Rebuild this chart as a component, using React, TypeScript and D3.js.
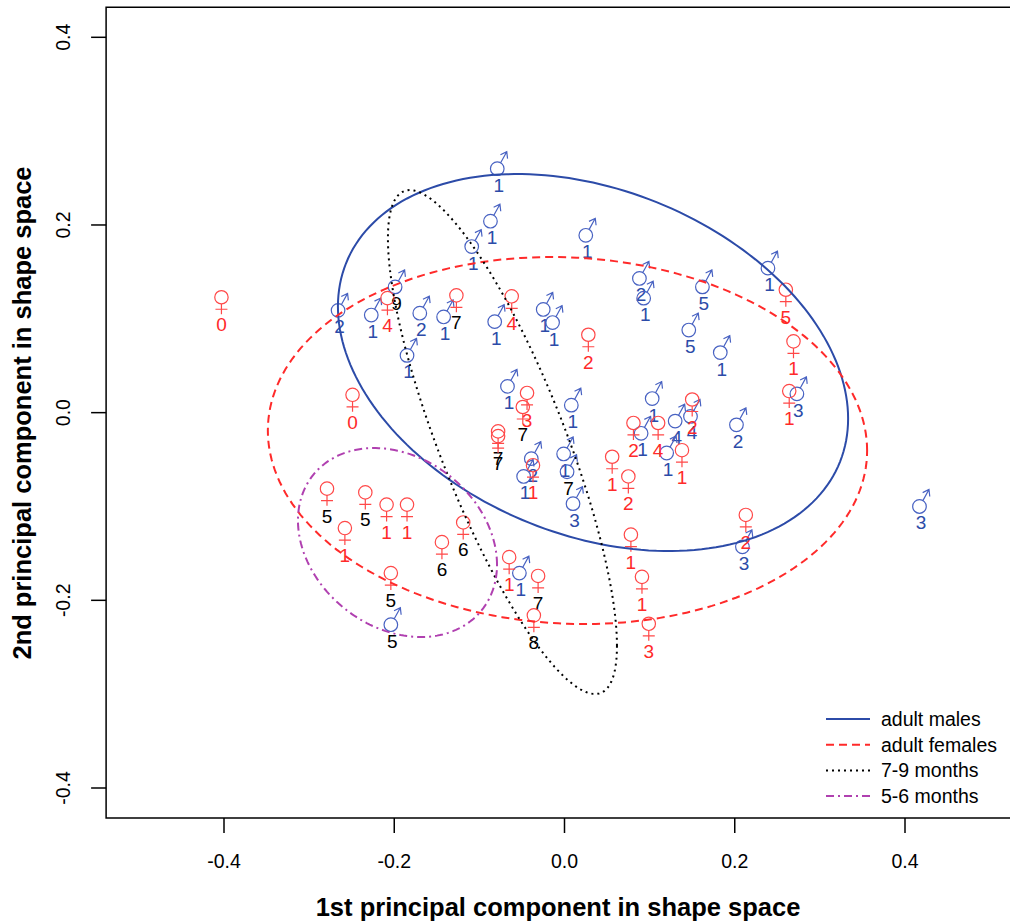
import React from "react";
import * as d3 from "d3";

// points: [pc1, pc2, label, group]  group: "a" adult, "j" juvenile
const males: [number, number, string, string][] = [
  [-0.266, 0.109, "2", "a"], [-0.227, 0.104, "1", "a"], [-0.199, 0.134, "9", "j"],
  [-0.170, 0.106, "2", "a"], [-0.142, 0.102, "1", "a"], [-0.185, 0.061, "1", "a"],
  [-0.079, 0.260, "1", "a"], [-0.087, 0.204, "1", "a"], [-0.109, 0.177, "1", "a"],
  [0.025, 0.189, "1", "a"], [-0.082, 0.097, "1", "a"], [-0.025, 0.110, "1", "a"],
  [-0.014, 0.096, "1", "a"], [0.088, 0.143, "2", "a"], [0.093, 0.122, "1", "a"],
  [0.162, 0.134, "5", "a"], [0.239, 0.154, "1", "a"], [0.146, 0.088, "5", "a"],
  [0.183, 0.064, "1", "a"], [0.273, 0.020, "3", "a"], [0.103, 0.015, "1", "a"],
  [0.148, -0.004, "4", "a"], [0.130, -0.009, "4", "a"], [0.120, -0.043, "1", "a"],
  [0.090, -0.022, "1", "a"], [0.202, -0.013, "2", "a"], [-0.067, 0.028, "1", "a"],
  [0.008, 0.008, "1", "a"], [-0.001, -0.044, "1", "a"], [0.003, -0.063, "7", "j"],
  [-0.039, -0.049, "2", "a"], [-0.048, -0.068, "1", "a"], [0.010, -0.097, "3", "a"],
  [-0.053, -0.171, "1", "a"], [-0.204, -0.226, "5", "j"], [0.209, -0.143, "3", "a"],
  [0.417, -0.100, "3", "a"],
];

const females: [number, number, string, string][] = [
  [-0.403, 0.123, "0", "a"], [-0.208, 0.122, "4", "a"], [-0.127, 0.125, "7", "j"],
  [-0.062, 0.124, "4", "a"], [0.028, 0.083, "2", "a"], [0.260, 0.131, "5", "a"],
  [0.269, 0.076, "1", "a"], [0.264, 0.023, "1", "a"], [-0.249, 0.019, "0", "a"],
  [-0.044, 0.021, "3", "a"], [-0.049, 0.006, "7", "j"], [-0.078, -0.020, "7", "j"],
  [-0.078, -0.025, "7", "j"], [-0.037, -0.056, "1", "a"], [0.056, -0.047, "1", "a"],
  [0.081, -0.011, "2", "a"], [0.110, -0.011, "4", "a"], [0.150, 0.014, "2", "a"],
  [0.138, -0.040, "1", "a"], [0.075, -0.068, "2", "a"], [0.078, -0.130, "1", "a"],
  [0.213, -0.109, "2", "a"], [0.091, -0.175, "1", "a"], [0.099, -0.225, "3", "a"],
  [-0.279, -0.081, "5", "j"], [-0.234, -0.085, "5", "j"], [-0.209, -0.098, "1", "a"],
  [-0.185, -0.098, "1", "a"], [-0.258, -0.123, "1", "a"], [-0.204, -0.171, "5", "j"],
  [-0.119, -0.117, "6", "j"], [-0.144, -0.138, "6", "j"], [-0.065, -0.154, "1", "a"],
  [-0.031, -0.174, "7", "j"], [-0.036, -0.216, "8", "j"],
];

// ellipses (center + covariance shape)
const ellipseNames = ["adult males", "adult females", "7-9 months", "5-6 months"];
const ellipseCx = [0.0335, 0.0035, -0.0729, -0.1962];
const ellipseCy = [0.0534, -0.0297, -0.0313, -0.1384];
const ellipseVarX = [0.0898, 0.1239, 0.0181, 0.01367];
const ellipseVarY = [0.04035, 0.03824, 0.0721, 0.01014];
const ellipseCov = [-0.0179, -0.00376, -0.0292, -0.00276];

const ticks = [-0.4, -0.2, 0, 0.2, 0.4];

const BLUE = "#2c4ba8";
const BLUE_SYM = "#4862c2";
const RED = "#ff2a2a";
const RED_SYM = "#ff4848";
const lineStyles = [
  { color: BLUE, dash: "none" },
  { color: RED, dash: "8,5" },
  { color: "#000000", dash: "2,4" },
  { color: "#b040b0", dash: "8,4,2,4" },
];

const FONT = "'Liberation Sans', Arial, sans-serif";

export default function App() {
  const width = 1010, height = 923;
  const x = d3.scaleLinear().domain([-0.4, 0.4]).range([224, 905]);
  const y = d3.scaleLinear().domain([-0.4, 0.4]).range([788, 37.3]);
  const xl = x(-0.5385), xr = x(0.56);
  const yt = y(0.432), yb = y(-0.432);

  const line = d3.line<[number, number]>().x(d => x(d[0])).y(d => y(d[1])).curve(d3.curveLinearClosed);

  const ellipsePts = (i: number) => {
    const l11 = Math.sqrt(ellipseVarX[i]);
    const l21 = ellipseCov[i] / l11;
    const l22 = Math.sqrt(ellipseVarY[i] - l21 * l21);
    return d3.range(0, 200).map(k => {
      const t = (k / 200) * 2 * Math.PI;
      return [ellipseCx[i] + l11 * Math.cos(t), ellipseCy[i] + l21 * Math.cos(t) + l22 * Math.sin(t)] as [number, number];
    });
  };

  const maleSym = "M 3.4 -5.9 L 9.5 -17 M 3.2 -13.9 L 9.5 -17 L 10.3 -10";
  const femaleSym = "M 0 6.7 L 0 17 M -6 12 L 6 12";

  return (
    <svg width={width} height={height} style={{ position: "absolute", left: 0, top: 0, background: "#fff" }} fontFamily={FONT}>
      <defs>
        <clipPath id="plot">
          <rect x={xl} y={yt} width={xr - xl} height={yb - yt} />
        </clipPath>
      </defs>

      {/* points */}
      <g>
        {males.map((d, i) => (
          <g key={"m" + i} transform={`translate(${x(d[0])},${y(d[1])})`}>
            <circle r={6.8} fill="none" stroke={BLUE_SYM} strokeWidth={1.2} />
            <path d={maleSym} fill="none" stroke={BLUE_SYM} strokeWidth={1.2} />
            <text x={1.5} y={16.5} textAnchor="middle" dominantBaseline="central" fontSize={19}
              fill={d[3] === "j" ? "#000" : BLUE}>{d[2]}</text>
          </g>
        ))}
        {females.map((d, i) => (
          <g key={"f" + i} transform={`translate(${x(d[0])},${y(d[1])})`}>
            <circle r={6.7} fill="none" stroke={RED_SYM} strokeWidth={1.2} />
            <path d={femaleSym} fill="none" stroke={RED_SYM} strokeWidth={1.2} />
            <text x={0} y={27.5} textAnchor="middle" dominantBaseline="central" fontSize={19}
              fill={d[3] === "j" ? "#000" : RED}>{d[2]}</text>
          </g>
        ))}
      </g>

      {/* ellipses */}
      <g clipPath="url(#plot)">
        {ellipseNames.map((n, i) => (
          <path key={n} d={line(ellipsePts(i)) || ""} fill="none" stroke={lineStyles[i].color}
            strokeWidth={2} strokeDasharray={lineStyles[i].dash} />
        ))}
      </g>

      {/* frame */}
      <path d={`M ${xr} ${yt} L ${xl} ${yt} L ${xl} ${yb} L ${xr} ${yb}`} fill="none" stroke="#000" strokeWidth={1.5} />

      {/* x axis */}
      {ticks.map(t => (
        <g key={"x" + t}>
          <line x1={x(t)} x2={x(t)} y1={yb} y2={yb + 15} stroke="#000" strokeWidth={1.5} />
          <text x={x(t)} y={yb + 50} textAnchor="middle" fontSize={19.5}>{d3.format(".1f")(t).replace("−", "-")}</text>
        </g>
      ))}
      {/* y axis */}
      {ticks.map(t => (
        <g key={"y" + t}>
          <line x1={xl - 15} x2={xl} y1={y(t)} y2={y(t)} stroke="#000" strokeWidth={1.5} />
          <text transform={`translate(${xl - 36},${y(t)}) rotate(-90)`} textAnchor="middle" fontSize={19.5}>
            {d3.format(".1f")(t).replace("−", "-")}</text>
        </g>
      ))}

      <text x={558} y={916} textAnchor="middle" fontSize={25.5} fontWeight="bold">1st principal component in shape space</text>
      <text transform={`translate(31,${413}) rotate(-90)`} textAnchor="middle" fontSize={25.5} fontWeight="bold">
        2nd principal component in shape space</text>

      {/* legend */}
      {ellipseNames.map((n, i) => (
        <g key={"lg" + i} transform={`translate(826,${719 + i * 25.7})`}>
          <line x1={0} x2={44} y1={0} y2={0} stroke={lineStyles[i].color} strokeWidth={2} strokeDasharray={lineStyles[i].dash} />
          <text x={55} y={0} dominantBaseline="central" fontSize={19.5}>{n}</text>
        </g>
      ))}
    </svg>
  );
}
